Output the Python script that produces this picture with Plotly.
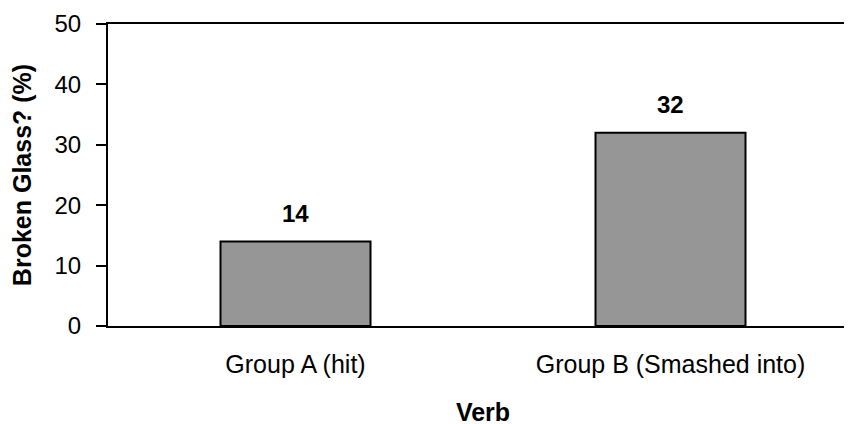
import plotly.graph_objects as go

categories = ["Group A (hit)", "Group B (Smashed into)"]
values = [14, 32]
y_ticks = [0, 10, 20, 30, 40, 50]

FONT = "Liberation Sans, Arial, sans-serif"

fig = go.Figure()
fig.add_trace(go.Bar(
    x=categories, y=values,
    marker=dict(color="#969696", line=dict(color="black", width=2)),
    width=0.4,
    hoverinfo="skip",
))

for c, v in zip(categories, values):
    fig.add_annotation(x=c, y=v, text=f"<b>{v}</b>", showarrow=False,
                       yanchor="middle", yshift=28,
                       font=dict(family=FONT, size=24, color="black"))

fig.update_layout(
    width=852, height=424,
    margin=dict(l=100, r=2, t=16, b=106, autoexpand=False),
    paper_bgcolor="white", plot_bgcolor="white",
    showlegend=False,
    font=dict(family=FONT, color="black"),
)
fig.update_xaxes(
    range=[-0.5, 1.5],
    showline=True, linecolor="black", linewidth=2, mirror=True,
    ticks="", showgrid=False, zeroline=False,
    tickfont=dict(family=FONT, size=25, color="black"),
    ticklabelstandoff=15,
    title=dict(text="<b>Verb</b>", font=dict(family=FONT, size=25, color="black"), standoff=26),
)
fig.update_yaxes(
    range=[0, 50], tickvals=y_ticks,
    showline=True, linecolor="black", linewidth=2,
    ticks="outside", ticklen=10, tickwidth=2, tickcolor="black",
    showgrid=False, zeroline=False,
    tickfont=dict(family=FONT, size=24, color="black"),
    ticklabelstandoff=10,
    title=dict(text="<b>Broken Glass? (%)</b>", font=dict(family=FONT, size=25, color="black"), standoff=16),
)

fig.write_html("out.html")
